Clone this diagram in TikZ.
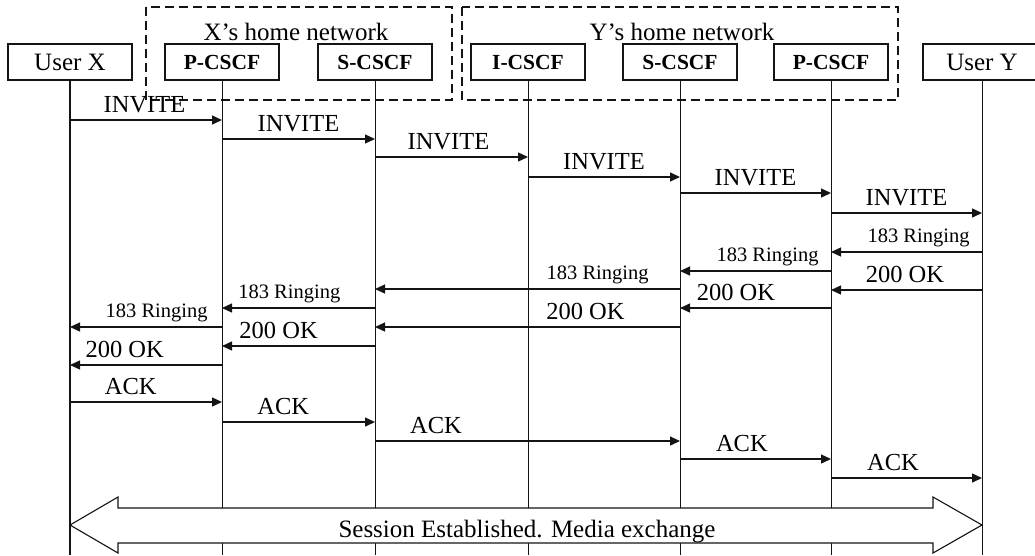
\documentclass[tikz,border=0pt]{standalone}
\usepackage{fontspec}
\setmainfont{Liberation Serif}
\usetikzlibrary{arrows.meta, positioning, calc}
\definecolor{mydark}{RGB}{20,20,20}
\tikzset{
  entity/.style={rectangle, draw=mydark, fill=white,
    minimum width=114pt, minimum height=36pt, inner sep=0pt,
    font=\fontsize{25}{28}\selectfont, line width=1.1pt},
  cscf/.style={entity, font=\fontsize{21.5}{24}\selectfont\bfseries},
  netbox/.style={draw=mydark, line width=1.2pt, dash pattern=on 9pt off 5pt},
  netlabel/.style={anchor=base, inner sep=0pt, font=\fontsize{25}{28}\selectfont},
  lifeline/.style={draw=mydark, line width=1pt},
  msg/.style={-{Triangle[length=10pt, width=9pt]}, line width=1.3pt, color=mydark},
  msgtext/.style={anchor=base, yshift=8pt, inner sep=0pt,
    font=\fontsize{24.5}{26}\selectfont, text=black},
  ringtext/.style={anchor=base, yshift=10pt, inner sep=0pt,
    font=\fontsize{20.5}{22}\selectfont, text=black},
  session/.style={draw=mydark, fill=white, line width=1.1pt, line join=miter}
}

\begin{document}
\begin{tikzpicture}[x=1pt, y=-1pt]
  \clip (0,0) rectangle (1035,555);

  % Home networks
  \draw[netbox] (146,7) rectangle (452,100);
  \draw[netbox] (462,7) rectangle (898,100);
  \node[netlabel] (xnet) at (296,40) {X's home network};
  \node[netlabel] (ynet) at (682,40) {Y's home network};

  % Entities
  \node[entity, minimum width=124pt] (ux) at (70,62) {User X};
  \node[cscf] (pcx) at (222,62) {P-CSCF};
  \node[cscf] (scx) at (375,62) {S-CSCF};
  \node[cscf] (icy) at (528,62) {I-CSCF};
  \node[cscf] (scy) at (680,62) {S-CSCF};
  \node[cscf] (pcy) at (831,62) {P-CSCF};
  \node[entity, minimum width=118pt] (uy) at (982,62) {User Y};

  % Lifelines
  \draw[lifeline, line width=1.6pt] (ux.south) -- (ux.south |- 0,555);
  \foreach \n in {pcx,scx,icy,scy,pcy,uy}
    \draw[lifeline] (\n.south) -- (\n.south |- 0,555);

  % INVITE
  \draw[msg] (ux |- 0,120) -- (pcx |- 0,120) node[msgtext, pos=.49] {INVITE};
  \draw[msg] (pcx |- 0,139) -- (scx |- 0,139) node[msgtext, pos=.5] {INVITE};
  \draw[msg] (scx |- 0,157) -- (icy |- 0,157) node[msgtext, pos=.48] {INVITE};
  \draw[msg] (icy |- 0,177) -- (scy |- 0,177) node[msgtext, pos=.5] {INVITE};
  \draw[msg] (scy |- 0,193) -- (pcy |- 0,193) node[msgtext, pos=.5] {INVITE};
  \draw[msg] (pcy |- 0,213) -- (uy |- 0,213) node[msgtext, pos=.5] {INVITE};

  % Ringing and OK
  \draw[msg] (uy |- 0,252) -- (pcy |- 0,252) node[ringtext, pos=.42] {183 Ringing};
  \draw[msg] (pcy |- 0,271) -- (scy |- 0,271) node[ringtext, pos=.42] {183 Ringing};
  \draw[msg] (uy |- 0,290) -- (pcy |- 0,290) node[msgtext, pos=.51] {200 OK};
  \draw[msg] (scy |- 0,289) -- (scx |- 0,289) node[ringtext, pos=.27] {183 Ringing};
  \draw[msg] (pcy |- 0,308) -- (scy |- 0,308) node[msgtext, pos=.63] {200 OK};
  \draw[msg] (scx |- 0,308) -- (pcx |- 0,308) node[ringtext, pos=.56] {183 Ringing};
  \draw[msg] (scy |- 0,327) -- (scx |- 0,327) node[msgtext, pos=.31] {200 OK};
  \draw[msg] (pcx |- 0,327) -- (ux |- 0,327) node[ringtext, pos=.43] {183 Ringing};
  \draw[msg] (scx |- 0,346) -- (pcx |- 0,346) node[msgtext, pos=.63] {200 OK};
  \draw[msg] (pcx |- 0,365) -- (ux |- 0,365) node[msgtext, pos=.64] {200 OK};

  % ACK
  \draw[msg] (ux |- 0,402) -- (pcx |- 0,402) node[msgtext, pos=.4] {ACK};
  \draw[msg] (pcx |- 0,422) -- (scx |- 0,422) node[msgtext, pos=.4] {ACK};
  \draw[msg] (scx |- 0,441) -- (scy |- 0,441) node[msgtext, pos=.2] {ACK};
  \draw[msg] (scy |- 0,459) -- (pcy |- 0,459) node[msgtext, pos=.41] {ACK};
  \draw[msg] (pcy |- 0,478) -- (uy |- 0,478) node[msgtext, pos=.41] {ACK};

  % Session
  \draw[session] (ux |- 0,525) -- (118,497) -- (118,508) -- (933,508) -- (933,497)
    -- (uy |- 0,525) -- (933,553) -- (933,543) -- (118,543) -- (118,553) -- cycle;
  \node[netlabel] (sess) at (527,537) {Session Established. Media exchange};
\end{tikzpicture}
\end{document}
